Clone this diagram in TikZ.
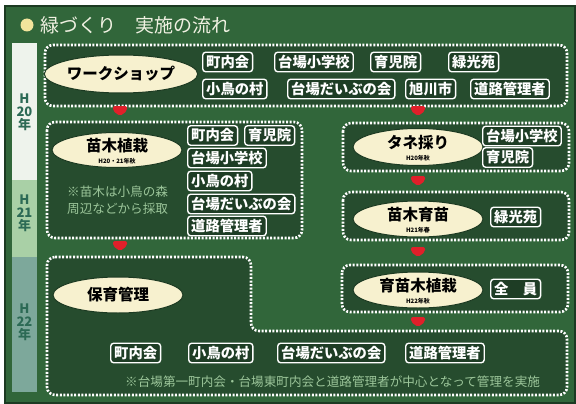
\documentclass[tikz,border=0pt]{standalone}
\usepackage{fontspec}
\setmainfont{Noto Sans CJK JP}
\usetikzlibrary{shapes.geometric}
\definecolor{board}{HTML}{31663A}
\definecolor{boardedge}{HTML}{1C3A22}
\definecolor{boxin}{HTML}{264C2E}
\definecolor{labfill}{HTML}{1E3D25}
\definecolor{cream}{HTML}{F7F1CF}
\definecolor{notegreen}{HTML}{9CC69A}
\definecolor{markred}{HTML}{E0202A}
\definecolor{yrA}{HTML}{EEF3EC}
\definecolor{yrB}{HTML}{A9D0A6}
\definecolor{yrC}{HTML}{7DA89B}
\definecolor{yrtext}{HTML}{2C6A55}
\definecolor{titlecol}{HTML}{F0F1E2}
\definecolor{dotyellow}{HTML}{F2E49C}
\begin{document}
\begin{tikzpicture}[x=1pt,y=-1pt,
  dotbox/.style={draw=white, line width=2.6pt, dash pattern=on 2pt off 1.6pt, rounded corners=8pt, fill=boxin},
  lab/.style={draw=white, line width=1.4pt, rounded corners=3pt, fill=labfill, text=white,
    font=\bfseries\fontsize{14.3}{16}\selectfont, inner xsep=3.5pt, inner ysep=1pt,
    minimum height=19.5pt, anchor=west},
  oval/.style={ellipse, draw=boardedge, line width=1pt, fill=cream, text=black,
    inner sep=0pt, font=\bfseries\fontsize{15.5}{17}\selectfont},
  sub/.style={font=\bfseries\fontsize{6}{7}\selectfont, text=black, inner sep=0pt},
  note/.style={text=notegreen, font=\fontsize{12.6}{15}\selectfont, inner sep=0pt},
  yrlab/.style={text=yrtext, font=\bfseries\fontsize{13}{13}\selectfont, align=center, inner sep=0pt},
  redmark/.pic={\fill[markred, rounded corners=2pt] (-7,-5) -- (7,-5) -- (7,0) -- (0,5) -- (-7,0) -- cycle;}
]
\useasboundingbox (0,0) rectangle (576,404);
\fill[white] (0,0) rectangle (576,404);
\fill[board] (4,5) rectangle (576,404);
\draw[boardedge, line width=2pt] (5,6) rectangle (575,403);

% title
\fill[dotyellow] (27,25) circle (6.5);
\node[anchor=west, text=titlecol, font=\fontsize{19}{21}\selectfont, inner sep=0pt] (title) at (40,25) {緑づくり　実施の流れ};

% year strip
\fill[yrA] (12,43) rectangle (37,180);
\fill[yrB] (12,180) rectangle (37,257);
\fill[yrC] (12,257) rectangle (37,392);
\node[yrlab] (y20) at (24.5,112) {H\\20\\年};
\node[yrlab] (y21) at (24.5,213) {H\\21\\年};
\node[yrlab] (y22) at (24.5,322) {H\\22\\年};

% dotted boxes
\draw[dotbox] (45,45) rectangle (567,106);
\draw[dotbox] (47,122) rectangle (302,238);
\draw[dotbox] (343,123) rectangle (569,171);
\draw[dotbox] (343,192) rectangle (569,240);
\draw[dotbox] (342,265) rectangle (568,312);
\draw[dotbox] (47,257) -- (251,257) -- (251,331) -- (567,331) -- (567,395) -- (47,395) -- cycle;

% red marks
\foreach \x/\y in {120/111, 418/111, 120/246, 418/181, 418/252, 418/322}
  \pic at (\x,\y) {redmark};

% ovals
\node[oval, minimum width=128pt, minimum height=38pt] (ws) at (121,74) {ワークショップ};
\node[oval, minimum width=130pt, minimum height=35pt] (nu) at (117,150) {};
\node[font=\bfseries\fontsize{15.5}{17}\selectfont, inner sep=0pt] (nut) at (117,146) {苗木植栽};
\node[sub] (nus) at (117,161) {H20・21年秋};
\node[oval, minimum width=130pt, minimum height=37pt] (ta) at (418,147) {};
\node[font=\bfseries\fontsize{15.5}{17}\selectfont, inner sep=0pt] (tat) at (418,143) {タネ採り};
\node[sub] (tas) at (418,158) {H20年秋};
\node[oval, minimum width=130pt, minimum height=36pt] (ik) at (418,219) {};
\node[font=\bfseries\fontsize{15.5}{17}\selectfont, inner sep=0pt] (ikt) at (418,215) {苗木育苗};
\node[sub] (iks) at (418,230) {H21年春};
\node[oval, minimum width=130pt, minimum height=36pt] (sh) at (418,290) {};
\node[font=\bfseries\fontsize{15.5}{17}\selectfont, inner sep=0pt] (sht) at (418,286) {育苗木植栽};
\node[sub] (shs) at (418,301) {H22年秋};
\node[oval, minimum width=130pt, minimum height=36pt] (ho) at (118,295) {保育管理};

% labels: workshop
\foreach \t/\x/\y [count=\i] in {町内会/202/62, 台場小学校/274/62, 育児院/370/62, 緑光苑/448/62,
   小鳥の村/202/89, 台場だいぶの会/287/89, 旭川市/405/89, 道路管理者/470/89}
  \node[lab] (wl\i) at (\x,\y) {\t};
% labels: 苗木植栽
\foreach \t/\x/\y [count=\i] in {町内会/187/135.5, 育児院/244/135.5, 台場小学校/187/158,
   小鳥の村/187/181, 台場だいぶの会/187/204, 道路管理者/187/226}
  \node[lab] (nl\i) at (\x,\y) {\t};
% labels: right column
\node[lab] (tl1) at (482,136) {台場小学校};
\node[lab] (tl2) at (482,157.5) {育児院};
\node[lab] (il1) at (490,217) {緑光苑};
\node[lab] (sl1) at (490,289) {全　員};
% labels: bottom
\foreach \t/\x [count=\i] in {町内会/110, 小鳥の村/188, 台場だいぶの会/277, 道路管理者/405}
  \node[lab] (bl\i) at (\x,353) {\t};

% notes
\node[note, anchor=west] (n1) at (67,192) {※苗木は小鳥の森};
\node[note, anchor=west] (n2) at (67,209) {周辺などから採取};
\node[note, anchor=west] (n3) at (125,382) {※台場第一町内会・台場東町内会と道路管理者が中心となって管理を実施};
\end{tikzpicture}
\end{document}
